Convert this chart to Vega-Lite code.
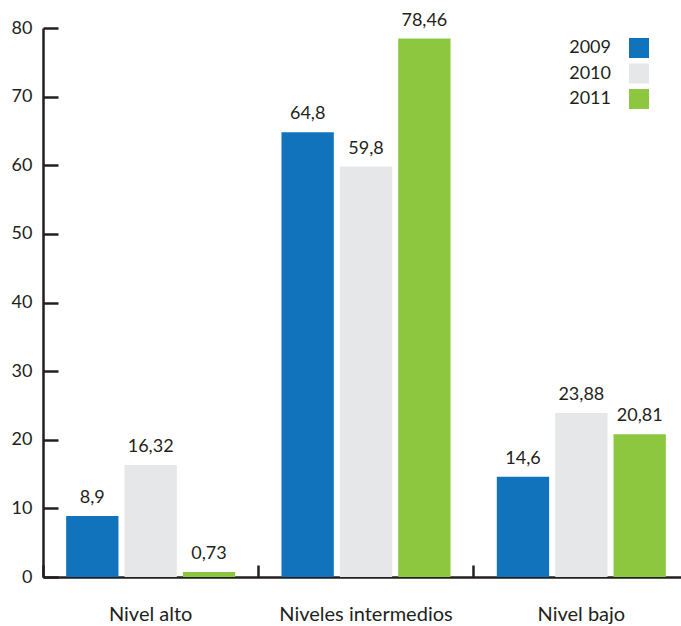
{
  "$schema": "https://vega.github.io/schema/vega-lite/v6.json",
  "autosize": {"type": "none"},
  "width": 638,
  "height": 549,
  "padding": {"left": 43, "top": 28, "right": 0, "bottom": 49},
  "background": "white",
  "config": {
    "view": {"stroke": null},
    "font": "Lato",
    "locale": {"number": {"decimal": ",", "thousands": ".", "grouping": [3], "currency": ["", " €"]}}
  },
  "data": {
    "values": [
      {"nivel": "Nivel alto", "year": "2009", "value": 8.9},
      {"nivel": "Nivel alto", "year": "2010", "value": 16.32},
      {"nivel": "Nivel alto", "year": "2011", "value": 0.73},
      {"nivel": "Niveles intermedios", "year": "2009", "value": 64.8},
      {"nivel": "Niveles intermedios", "year": "2010", "value": 59.8},
      {"nivel": "Niveles intermedios", "year": "2011", "value": 78.46},
      {"nivel": "Nivel bajo", "year": "2009", "value": 14.6},
      {"nivel": "Nivel bajo", "year": "2010", "value": 23.88},
      {"nivel": "Nivel bajo", "year": "2011", "value": 20.81}
    ]
  },
  "encoding": {
    "x": {
      "field": "nivel", "type": "nominal", "sort": null,
      "scale": {"range": [0, 646], "paddingInner": 0, "paddingOuter": 0},
      "axis": {
        "title": null, "labelAngle": 0, "domainColor": "#231f20", "domainWidth": 2.5,
        "tickColor": "#231f20", "tickWidth": 2.5, "tickSize": -12, "bandPosition": 0,
        "labelFontSize": 20, "labelColor": "#231f20", "labelPadding": 39, "labelBaseline": "top"
      }
    },
    "xOffset": {
      "field": "year", "type": "nominal",
      "scale": {"paddingInner": 0.1034, "paddingOuter": 0.3966}
    },
    "y": {
      "field": "value", "type": "quantitative",
      "scale": {"domain": [0, 80], "nice": false},
      "axis": {
        "title": null, "values": [0, 10, 20, 30, 40, 50, 60, 70, 80], "grid": false,
        "domainColor": "#231f20", "domainWidth": 2.5, "tickColor": "#231f20", "tickWidth": 2.5,
        "tickSize": -15, "labelPadding": 26, "labelFontSize": 18, "labelColor": "#231f20",
        "labelBaseline": "middle"
      }
    }
  },
  "layer": [
    {
      "mark": {"type": "bar"},
      "encoding": {
        "color": {
          "field": "year", "type": "nominal",
          "scale": {"domain": ["2009", "2010", "2011"], "range": ["#1173bb", "#e6e7e8", "#8dc63f"]},
          "legend": {
            "title": null, "orient": "none", "legendX": 586, "legendY": 10,
            "symbolType": "square", "symbolSize": 400, "symbolStrokeWidth": 0, "symbolOpacity": 1,
            "labelFontSize": 18, "labelColor": "#231f20", "labelAlign": "right", "labelOffset": -38,
            "rowPadding": 5.5, "padding": 0
          }
        }
      }
    },
    {
      "mark": {"type": "text", "baseline": "alphabetic", "dy": -13, "fontSize": 18, "color": "#231f20"},
      "encoding": {
        "text": {"field": "value", "type": "quantitative", "format": ".4~r"}
      }
    }
  ]
}
